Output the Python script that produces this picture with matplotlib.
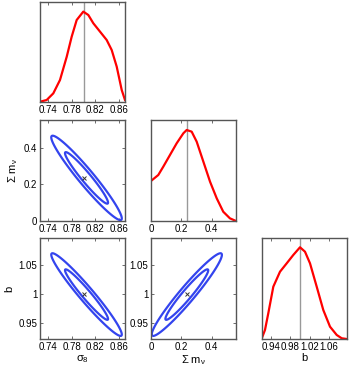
import numpy as np
import matplotlib
matplotlib.use('Agg')
import matplotlib.pyplot as plt

plt.rcParams['font.family'] = ['Liberation Sans', 'DejaVu Sans']
plt.rcParams['mathtext.fontset'] = 'custom'
plt.rcParams['mathtext.rm'] = 'Liberation Sans'
plt.rcParams['mathtext.it'] = 'Liberation Sans'

# ---------- Data ----------
# fiducial values (vertical lines and crosses)
fid_s8, fid_mnu, fid_b = 0.80, 0.236, 1.0

# 1D marginals
s8_x = [0.727, 0.7382, 0.7493, 0.7605, 0.7718, 0.7801, 0.7885, 0.7996,
        0.8080, 0.8164, 0.8276, 0.8388, 0.8472, 0.8556, 0.8640, 0.8695]
s8_p = [0.003, 0.022, 0.095, 0.242, 0.498, 0.718, 0.902, 0.994,
        0.957, 0.866, 0.774, 0.682, 0.572, 0.389, 0.132, 0.022]

mnu_x = [0.0, 0.048, 0.081, 0.125, 0.169, 0.213, 0.235, 0.268,
         0.301, 0.345, 0.389, 0.433, 0.476, 0.520, 0.56]
mnu_p = [0.436, 0.501, 0.592, 0.719, 0.846, 0.955, 0.991, 0.973,
         0.864, 0.646, 0.428, 0.247, 0.101, 0.029, 0.0]

b_x = [0.922, 0.9285, 0.9353, 0.9456, 0.9593, 0.9730, 0.9865, 1.0003,
       1.0105, 1.0208, 1.0345, 1.0480, 1.0618, 1.0755, 1.0857, 1.0960]
b_p = [0.008, 0.098, 0.280, 0.570, 0.733, 0.824, 0.915, 0.999,
       0.951, 0.824, 0.570, 0.316, 0.134, 0.044, 0.008, 0.0]

# 2D contours: centre, widths and correlations of each pair
cen_s8, cen_mnu, cen_b = 0.805, 0.236, 0.999
sig_s8, sig_mnu, sig_b = 0.0238, 0.093, 0.0287
rho_s8_mnu, rho_s8_b, rho_mnu_b = -0.96, -0.965, 0.96
levels = [2.30, 6.17]   # 68% and 95% for 2 parameters

# axis ranges and ticks
s8_lim, mnu_lim, mnu_ylim, b_lim = (0.727, 0.8695), (0.0, 0.56), (0.0, 0.553), (0.9224, 1.0966)
s8_ticks = [0.74, 0.78, 0.82, 0.86]
mnu_ticks = [0, 0.2, 0.4]
b_ticks = [0.95, 1, 1.05]
b_xticks = [0.94, 0.98, 1.02, 1.06]

RED = '#ff0000'
BLUE = '#3344ee'
FRAME = '#555555'

W, H = 349, 370
fig = plt.figure(figsize=(W / 100, H / 100), dpi=100)

lefts = [40, 151, 262]
tops = [2, 120, 238]
bottoms = [102, 221, 339]


def make_ax(col, row):
    l = lefts[col] / W
    b = 1 - bottoms[row] / H
    h = (bottoms[row] - tops[row]) / H
    ax = fig.add_axes([l, b, 85 / W, h])
    for s in ax.spines.values():
        s.set_color(FRAME)
        s.set_linewidth(1.0)
    ax.tick_params(direction='in', length=2.5, width=0.6, color=FRAME,
                   top=True, right=True, labelsize=7, pad=2)
    return ax


def fmt(v):
    return ('%g' % v)


def contour2d(ax, cx, cy, sx, sy, rho, xlim, ylim):
    xs = np.linspace(xlim[0], xlim[1], 400)
    ys = np.linspace(ylim[0], ylim[1], 400)
    X, Y = np.meshgrid(xs, ys)
    dx = (X - cx) / sx
    dy = (Y - cy) / sy
    chi2 = (dx ** 2 - 2 * rho * dx * dy + dy ** 2) / (1 - rho ** 2)
    ax.contour(X, Y, chi2, levels=levels, colors=BLUE, linewidths=1.6)


def marginal(ax, x, p, fid, xlim, ticks):
    ax.axvline(fid, color='#999999', lw=1.0)
    ax.plot(x, p, color=RED, lw=1.6)
    ax.set_xlim(xlim)
    ax.set_ylim(0, 1.1)
    ax.set_yticks([])
    ax.set_xticks(ticks)
    ax.set_xticklabels([fmt(t) for t in ticks])


# ---------- Row 1 ----------
ax = make_ax(0, 0)
marginal(ax, s8_x, s8_p, fid_s8, s8_lim, s8_ticks)

# ---------- Row 2 ----------
ax = make_ax(0, 1)
contour2d(ax, cen_s8, cen_mnu, sig_s8, sig_mnu, rho_s8_mnu, s8_lim, mnu_ylim)
ax.plot(fid_s8, fid_mnu, 'x', color='#333333', ms=3, mew=0.7)
ax.set_xlim(s8_lim)
ax.set_ylim(mnu_ylim)
ax.set_xticks(s8_ticks)
ax.set_xticklabels([fmt(t) for t in s8_ticks])
ax.set_yticks(mnu_ticks)
ax.set_yticklabels([fmt(t) for t in mnu_ticks])
ax.set_ylabel('Σ m$_\\nu$', fontsize=8, labelpad=3)

ax = make_ax(1, 1)
marginal(ax, mnu_x, mnu_p, fid_mnu, mnu_lim, mnu_ticks)

# ---------- Row 3 ----------
ax = make_ax(0, 2)
contour2d(ax, cen_s8, cen_b, sig_s8, sig_b, rho_s8_b, s8_lim, b_lim)
ax.plot(fid_s8, fid_b, 'x', color='#333333', ms=3, mew=0.7)
ax.set_xlim(s8_lim)
ax.set_ylim(b_lim)
ax.set_xticks(s8_ticks)
ax.set_xticklabels([fmt(t) for t in s8_ticks])
ax.set_yticks(b_ticks)
ax.set_yticklabels([fmt(t) for t in b_ticks])
ax.set_xlabel('σ$_8$', fontsize=8, labelpad=1)
ax.set_ylabel('b', fontsize=8, labelpad=3)

ax = make_ax(1, 2)
contour2d(ax, cen_mnu, cen_b, sig_mnu, sig_b, rho_mnu_b, mnu_lim, b_lim)
ax.plot(fid_mnu, fid_b, 'x', color='#333333', ms=3, mew=0.7)
ax.set_xlim(mnu_lim)
ax.set_ylim(b_lim)
ax.set_xticks(mnu_ticks)
ax.set_xticklabels([fmt(t) for t in mnu_ticks])
ax.set_yticks(b_ticks)
ax.set_yticklabels([fmt(t) for t in b_ticks])
ax.set_xlabel('Σ m$_\\nu$', fontsize=8, labelpad=1)

ax = make_ax(2, 2)
marginal(ax, b_x, b_p, fid_b, b_lim, b_xticks)
ax.set_xlabel('b', fontsize=8, labelpad=1)

plt.savefig('out.png', dpi=100)
